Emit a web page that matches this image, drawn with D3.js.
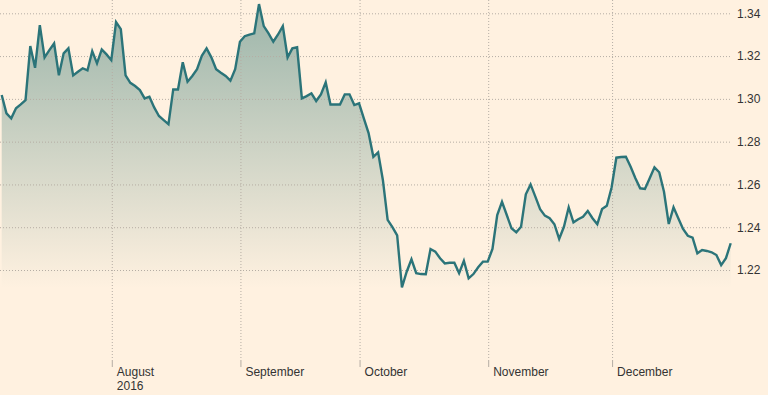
<!DOCTYPE html>
<html>
<head>
<meta charset="utf-8">
<script src="https://cdn.jsdelivr.net/npm/d3@7"></script>
<style>
  html, body { margin: 0; padding: 0; background: #fff1e0; }
  svg { display: block; }
  text { font-family: "Liberation Sans", Arial, sans-serif; }
</style>
</head>
<body>
<svg id="chart" width="768" height="395"></svg>
<script>
// GBP/USD daily closes, Jul-Dec 2016
const values = [
  1.3018, 1.2932, 1.2909, 1.2956, 1.2974, 1.2994, 1.3247, 1.3145, 1.3345, 1.3194,
  1.3228, 1.3259, 1.3110, 1.3213, 1.3236, 1.3110, 1.3127, 1.3143, 1.3133, 1.3223,
  1.3166, 1.3231, 1.3208, 1.3181, 1.3359, 1.3326, 1.3110, 1.3075, 1.3060, 1.3041,
  1.3002, 1.3010, 1.2960, 1.2920, 1.2901, 1.2882, 1.3044, 1.3044, 1.3171, 1.3080,
  1.3107, 1.3139, 1.3201, 1.3236, 1.3194, 1.3139, 1.3122, 1.3107, 1.3085, 1.3139,
  1.3267, 1.3293, 1.3300, 1.3306, 1.3443, 1.3340, 1.3306, 1.3267, 1.3301, 1.3340,
  1.3194, 1.3236, 1.3241, 1.3002, 1.3013, 1.3026, 1.2990, 1.3021, 1.3077, 1.2974,
  1.2974, 1.2974, 1.3021, 1.3021, 1.2971, 1.2979, 1.2909, 1.2840, 1.2729, 1.2750,
  1.2621, 1.2434, 1.2400, 1.2362, 1.2119, 1.2192, 1.2250, 1.2185, 1.2181, 1.2180,
  1.2298, 1.2286, 1.2255, 1.2231, 1.2234, 1.2234, 1.2185, 1.2243, 1.2161, 1.2181,
  1.2213, 1.2239, 1.2239, 1.2298, 1.2457, 1.2519, 1.2457, 1.2395, 1.2376, 1.2402,
  1.2554, 1.2600, 1.2543, 1.2484, 1.2454, 1.2442, 1.2414, 1.2345, 1.2402, 1.2493,
  1.2423, 1.2437, 1.2449, 1.2476, 1.2442, 1.2414, 1.2485, 1.2500, 1.2586, 1.2725,
  1.2728, 1.2729, 1.2683, 1.2629, 1.2582, 1.2579, 1.2629, 1.2680, 1.2657, 1.2566,
  1.2415, 1.2493, 1.2442, 1.2392, 1.2360, 1.2351, 1.2278, 1.2293, 1.2289, 1.2283,
  1.2270, 1.2223, 1.2255, 1.2325
];
// Month boundaries: index of first trading day in each month
const monthLabels = ["August", "September", "October", "November", "December"];
const monthIndex  = [23, 50, 75, 102, 128];
const yearLabel   = "2016";
const yTicks      = [1.22, 1.24, 1.26, 1.28, 1.30, 1.32, 1.34];

const W = 768, H = 395;
const svg = d3.select("#chart");

const x = d3.scaleLinear().domain([0, values.length - 1]).range([1.7, 730.7]);
const y = d3.scaleLinear().domain([1.22, 1.34]).range([270, 13.3]);
const areaBase = 1.2115;

svg.append("rect").attr("width", W).attr("height", H).attr("fill", "#fff1e0");

// gradient
const defs = svg.append("defs");
const grad = defs.append("linearGradient")
  .attr("id", "fillGrad").attr("gradientUnits", "userSpaceOnUse")
  .attr("x1", 0).attr("x2", 0).attr("y1", 0).attr("y2", y(areaBase));
grad.append("stop").attr("offset", "0%").attr("stop-color", "#9ab4a9");
grad.append("stop").attr("offset", "100%").attr("stop-color", "#fff1e0");

// area
const area = d3.area()
  .x((d, i) => x(i))
  .y0(y(areaBase))
  .y1(d => y(d));
svg.append("path").datum(values)
  .attr("d", area)
  .attr("fill", "url(#fillGrad)");

// horizontal gridlines
const yAxis = d3.axisRight(y).tickValues(yTicks).tickSize(-730).tickFormat(d3.format(".2f")).tickPadding(7);
const gy = svg.append("g").attr("transform", "translate(730,0)").call(yAxis);
gy.select(".domain").remove();
gy.selectAll(".tick line")
  .attr("stroke", "#b5ada4").attr("stroke-width", 1).attr("stroke-dasharray", "1,2");
gy.selectAll(".tick text")
  .attr("fill", "#333").attr("font-size", 12).attr("x", 7).attr("dy", "0.32em");

// vertical gridlines (month boundaries)
const xAxis = d3.axisBottom(x).tickValues(monthIndex).tickSize(0)
  .tickFormat((d, i) => monthLabels[i]);
const gx = svg.append("g").attr("transform", "translate(0,361)").call(xAxis);
gx.select(".domain").remove();
gx.selectAll(".tick").each(function(d, i) {
  const t = d3.select(this);
  t.select("line").remove();
  t.append("line").attr("x1", 0.5).attr("x2", 0.5).attr("y1", -361).attr("y2", 0)
    .attr("stroke", "#b5ada4").attr("stroke-dasharray", "1,2");
  t.append("line").attr("x1", 0.5).attr("x2", 0.5).attr("y1", 0).attr("y2", 6)
    .attr("stroke", "#b5ada4");
  t.select("text")
    .attr("text-anchor", "start").attr("x", 5).attr("y", 15).attr("dy", 0)
    .attr("fill", "#333").attr("font-size", 12);
  if (i === 0) {
    t.append("text").text(yearLabel)
      .attr("text-anchor", "start")
      .attr("x", 5).attr("y", 29).attr("fill", "#333").attr("font-size", 12)
      .attr("font-family", "Liberation Sans, Arial, sans-serif");
  }
});

// line
const line = d3.line().x((d, i) => x(i)).y(d => y(d));
svg.append("path").datum(values)
  .attr("d", line)
  .attr("fill", "none")
  .attr("stroke", "#2b7479")
  .attr("stroke-width", 2.4)
  .attr("stroke-linejoin", "miter");
</script>
</body>
</html>
